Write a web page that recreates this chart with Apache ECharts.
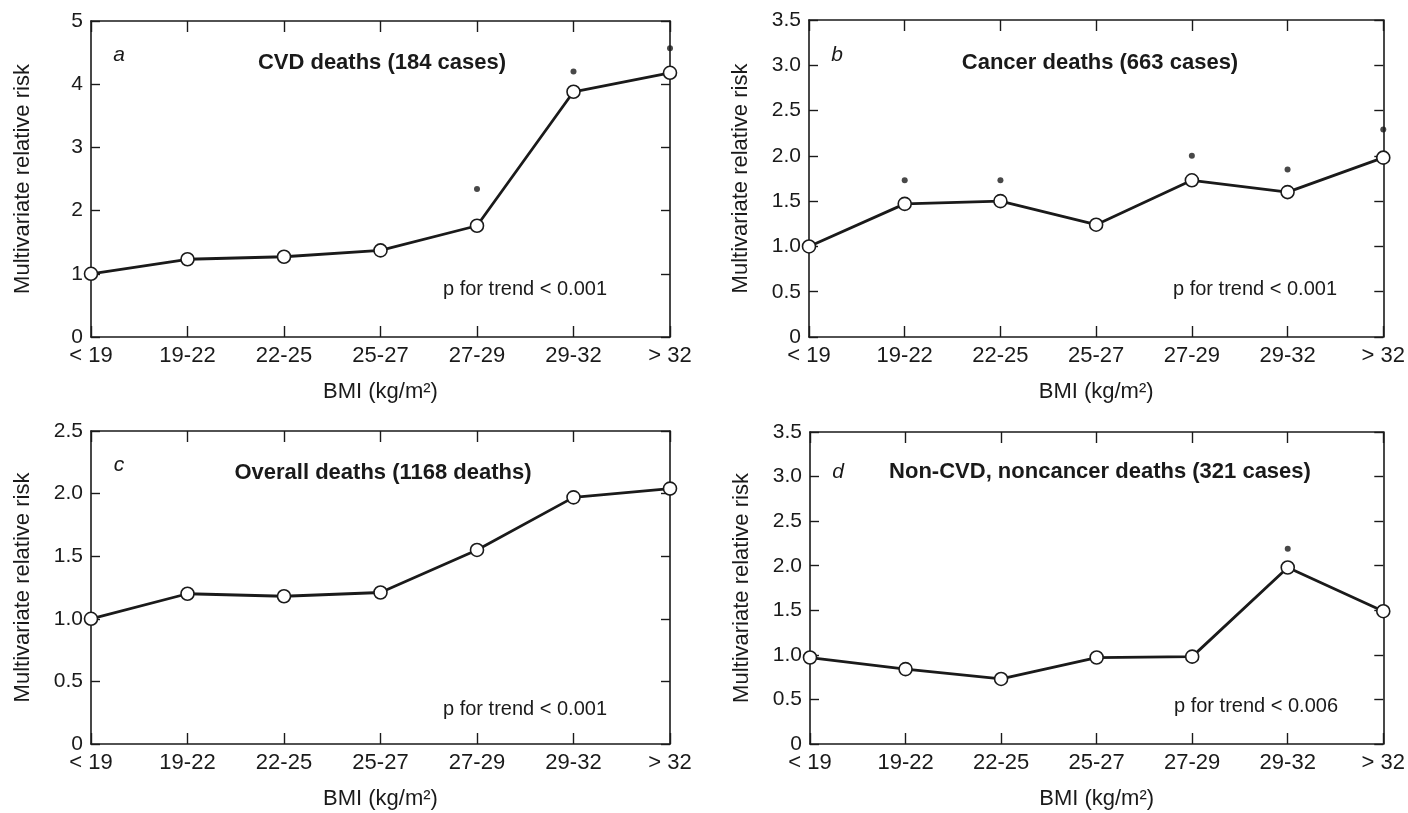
<!DOCTYPE html>
<html>
<head>
<meta charset="utf-8">
<script src="https://cdn.jsdelivr.net/npm/echarts@6/dist/echarts.min.js"></script>
<style>
  html, body { margin: 0; padding: 0; background: #fff; }
  #chart { width: 1408px; height: 813px; }
</style>
</head>
<body>
<div id="chart"></div>
<script>
// ---- data ----
const categories = ['< 19', '19-22', '22-25', '25-27', '27-29', '29-32', '> 32'];

const cvdRisk      = [1.0, 1.23, 1.27, 1.37, 1.76, 3.88, 4.18];
const cvdStars     = ['-', '-', '-', '-', 2.34, 4.2, 4.57];

const cancerRisk   = [1.0, 1.47, 1.5, 1.24, 1.73, 1.6, 1.98];
const cancerStars  = ['-', 1.73, 1.73, '-', 2.0, 1.85, 2.29];

const overallRisk  = [1.0, 1.2, 1.18, 1.21, 1.55, 1.97, 2.04];
const overallStars = ['-', '-', '-', '-', '-', '-', '-'];

const otherRisk    = [0.97, 0.84, 0.73, 0.97, 0.98, 1.98, 1.49];
const otherStars   = ['-', '-', '-', '-', '-', 2.19, '-'];

const panelLetters = ['a', 'b', 'c', 'd'];
const panelTitles  = ['CVD deaths (184 cases)', 'Cancer deaths (663 cases)',
                      'Overall deaths (1168 deaths)', 'Non-CVD, noncancer deaths (321 cases)'];
const trendTexts   = ['p for trend < 0.001', 'p for trend < 0.001',
                      'p for trend < 0.001', 'p for trend < 0.006'];
const yMax         = [5, 3.5, 2.5, 3.5];
const yStep        = [1, 0.5, 0.5, 0.5];
const yAxisName    = 'Multivariate relative risk';
const xAxisName    = 'BMI (kg/m²)';

// ---- layout ----
const grids = [
  { left: 91,  top: 21,  width: 579, height: 316 },
  { left: 809, top: 20,  width: 577, height: 317 },
  { left: 91,  top: 431, width: 579, height: 313 },
  { left: 810, top: 432, width: 577, height: 312 }
];
const letterPos = [[119, 55], [837, 55], [119, 465], [838, 472]];
const titlePos  = [[382, 63], [1100, 63], [383, 473], [1100, 472]];
const trendPos  = [[525, 289], [1255, 289], [525, 709], [1256, 706]];

const riskSeries = [cvdRisk, cancerRisk, overallRisk, otherRisk];
const starSeries = [cvdStars, cancerStars, overallStars, otherStars];

const FONT = '"Liberation Sans", Arial, Helvetica, sans-serif';
const INK = '#1a1a1a';

const xAxes = [], yAxes = [], series = [], graphics = [];

grids.forEach((g, i) => {
  const axisLine = { show: true, onZero: false, lineStyle: { color: INK, width: 1.6 } };
  // bottom category axis
  xAxes.push({
    type: 'category', gridIndex: i, data: categories, boundaryGap: false,
    position: 'bottom',
    axisLine: axisLine,
    axisTick: { show: true, inside: true, length: 11, lineStyle: { color: INK, width: 1.4 } },
    axisLabel: { color: INK, fontFamily: FONT, fontSize: 22, margin: 8 },
    splitLine: { show: false },
    name: xAxisName, nameLocation: 'middle', nameGap: 44,
    nameTextStyle: { color: INK, fontFamily: FONT, fontSize: 22 }
  });
  // top frame axis
  xAxes.push({
    type: 'category', gridIndex: i, data: categories, boundaryGap: false,
    position: 'top',
    axisLine: axisLine,
    axisTick: { show: true, inside: true, length: 11, lineStyle: { color: INK, width: 1.4 } },
    axisLabel: { show: false },
    splitLine: { show: false }
  });
  // left value axis
  yAxes.push({
    type: 'value', gridIndex: i, min: 0, max: yMax[i], interval: yStep[i],
    position: 'left',
    axisLine: axisLine,
    axisTick: { show: true, inside: true, length: 9, lineStyle: { color: INK, width: 1.4 } },
    axisLabel: {
      color: INK, fontFamily: FONT, fontSize: 21, margin: 8,
      formatter: v => (v === 0 ? '0' : (yStep[i] < 1 ? v.toFixed(1) : String(v)))
    },
    splitLine: { show: false },
    name: yAxisName, nameLocation: 'middle', nameGap: 57, nameRotate: 90,
    nameTextStyle: { color: INK, fontFamily: FONT, fontSize: 22 }
  });
  // right frame axis
  yAxes.push({
    type: 'value', gridIndex: i, min: 0, max: yMax[i], interval: yStep[i],
    position: 'right',
    axisLine: axisLine,
    axisTick: { show: true, inside: true, length: 9, lineStyle: { color: INK, width: 1.4 } },
    axisLabel: { show: false },
    splitLine: { show: false }
  });

  series.push({
    type: 'line', xAxisIndex: i * 2, yAxisIndex: i * 2,
    data: riskSeries[i], clip: false,
    lineStyle: { color: INK, width: 2.8 },
    symbol: 'circle', symbolSize: 13,
    itemStyle: { color: '#fff', borderColor: INK, borderWidth: 1.6 },
    z: 3, animation: false
  });
  series.push({
    type: 'scatter', xAxisIndex: i * 2, yAxisIndex: i * 2,
    data: starSeries[i], clip: false,
    symbol: 'circle', symbolSize: 6,
    itemStyle: { color: INK },
    z: 4, animation: false
  });

  graphics.push({
    type: 'text', x: letterPos[i][0], y: letterPos[i][1],
    style: { text: panelLetters[i], fill: INK, font: 'italic 21px ' + FONT,
             textAlign: 'center', textVerticalAlign: 'middle' }
  });
  graphics.push({
    type: 'text', x: titlePos[i][0], y: titlePos[i][1],
    style: { text: panelTitles[i], fill: INK, font: 'bold 22px ' + FONT,
             textAlign: 'center', textVerticalAlign: 'middle' }
  });
  graphics.push({
    type: 'text', x: trendPos[i][0], y: trendPos[i][1],
    style: { text: trendTexts[i], fill: INK, font: '20px ' + FONT,
             textAlign: 'center', textVerticalAlign: 'middle' }
  });
});

const chart = echarts.init(document.getElementById('chart'), null, { renderer: 'canvas' });
chart.setOption({
  backgroundColor: '#fff',
  animation: false,
  grid: grids.map(g => Object.assign({ containLabel: false }, g)),
  xAxis: xAxes,
  yAxis: yAxes,
  series: series,
  graphic: graphics
});
</script>
</body>
</html>
